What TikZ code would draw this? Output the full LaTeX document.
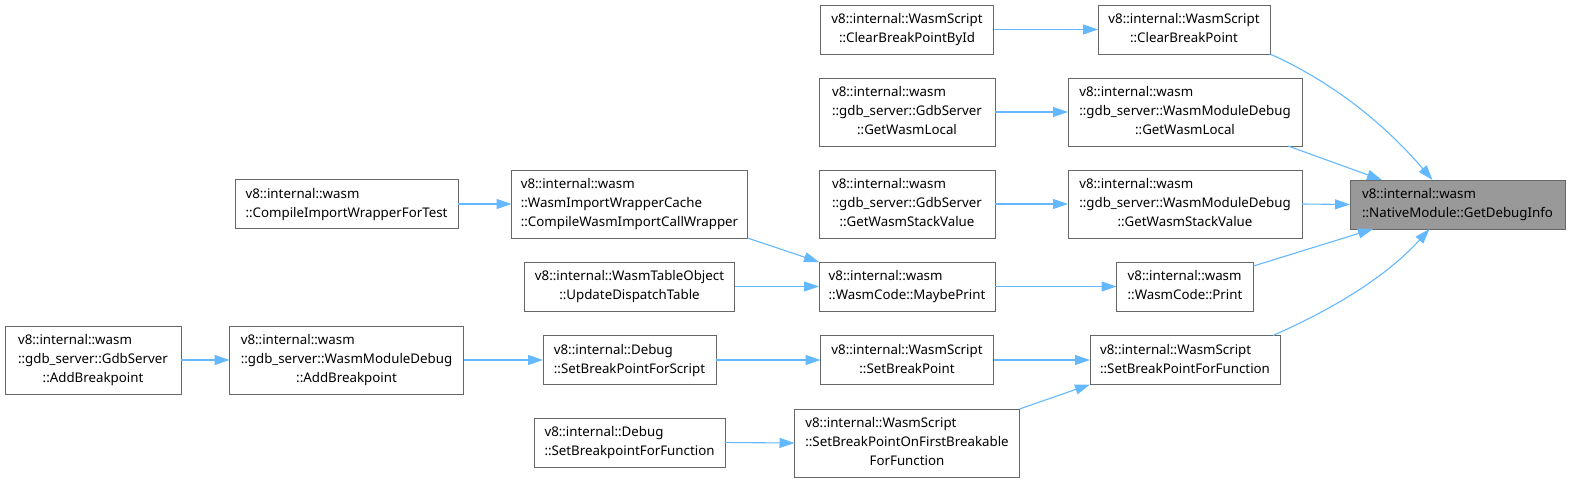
\documentclass[tikz,border=0pt]{standalone}
\usepackage{fontspec}
\setmainfont{Noto Sans}
\usepackage{xcolor}
\usetikzlibrary{arrows.meta}
\definecolor{edgeblue}{HTML}{63B8FF}
\definecolor{boxline}{HTML}{666666}
\definecolor{focusfill}{HTML}{999999}
\newcommand{\fnlines}[1]{\begin{tabular}{@{}l@{}}#1\end{tabular}}
\newcommand{\lastln}[1]{\multicolumn{1}{@{}c@{}}{#1}}
\tikzset{
  fnbox/.style={
    draw=boxline,
    fill=white,
    line width=1pt,
    inner sep=0pt,
    outer sep=0pt,
    minimum height=49pt,
    font=\fontsize{13.3}{19}\selectfont
  },
  tall/.style={minimum height=68pt},
  call/.style={-{Triangle[length=15pt,width=10pt]}, draw=edgeblue, line width=1.1pt}
}

\begin{document}
\begin{tikzpicture}[x=1pt, y=-1pt]
  \useasboundingbox (0,0) rectangle (1571,482);

  % target
  \node[fnbox, fill=focusfill, minimum width=215pt] (gdi) at (1457.5,204.5) {\fnlines{v8::internal::wasm\\::NativeModule::GetDebugInfo}};

  % direct callers
  \node[fnbox, minimum width=172pt] (cbp) at (1184,29.5) {\fnlines{v8::internal::WasmScript\\\lastln{::ClearBreakPoint}}};
  \node[fnbox, tall, minimum width=234pt] (gwl2) at (1185,112) {\fnlines{v8::internal::wasm\\::gdb\_server::WasmModuleDebug\\\lastln{::GetWasmLocal}}};
  \node[fnbox, tall, minimum width=234pt] (gsv2) at (1185,204) {\fnlines{v8::internal::wasm\\::gdb\_server::WasmModuleDebug\\\lastln{::GetWasmStackValue}}};
  \node[fnbox, minimum width=137pt] (pr) at (1185,286.5) {\fnlines{v8::internal::wasm\\\lastln{::WasmCode::Print}}};
  \node[fnbox, minimum width=190pt] (sbf) at (1185,360) {\fnlines{v8::internal::WasmScript\\\lastln{::SetBreakPointForFunction}}};

  % second column
  \node[fnbox, minimum width=173pt] (cbid) at (907,29.5) {\fnlines{v8::internal::WasmScript\\\lastln{::ClearBreakPointById}}};
  \node[fnbox, tall, minimum width=176pt] (gwl1) at (907,112) {\fnlines{v8::internal::wasm\\::gdb\_server::GdbServer\\\lastln{::GetWasmLocal}}};
  \node[fnbox, tall, minimum width=176pt] (gsv1) at (907,204) {\fnlines{v8::internal::wasm\\::gdb\_server::GdbServer\\\lastln{::GetWasmStackValue}}};
  \node[fnbox, minimum width=176pt] (mp) at (907,286.5) {\fnlines{v8::internal::wasm\\\lastln{::WasmCode::MaybePrint}}};
  \node[fnbox, minimum width=173pt] (sbp) at (907,360) {\fnlines{v8::internal::WasmScript\\\lastln{::SetBreakPoint}}};
  \node[fnbox, tall, minimum width=225pt] (sbfb) at (907,443) {\fnlines{v8::internal::WasmScript\\::SetBreakPointOnFirstBreakable\\\lastln{ForFunction}}};

  % third column
  \node[fnbox, tall, minimum width=236pt] (ciw) at (629.5,204) {\fnlines{v8::internal::wasm\\::WasmImportWrapperCache\\\lastln{::CompileWasmImportCallWrapper}}};
  \node[fnbox, minimum width=210pt] (udt) at (629.5,286.5) {\fnlines{v8::internal::WasmTableObject\\\lastln{::UpdateDispatchTable}}};
  \node[fnbox, minimum width=173pt] (sbs) at (629.5,360) {\fnlines{v8::internal::Debug\\\lastln{::SetBreakPointForScript}}};
  \node[fnbox, minimum width=191pt] (sbff) at (629.5,442.5) {\fnlines{v8::internal::Debug\\\lastln{::SetBreakpointForFunction}}};

  % outer columns
  \node[fnbox, minimum width=223pt] (ciwt) at (346.5,204) {\fnlines{v8::internal::wasm\\\lastln{::CompileImportWrapperForTest}}};
  \node[fnbox, tall, minimum width=234pt] (wab) at (346.5,360) {\fnlines{v8::internal::wasm\\::gdb\_server::WasmModuleDebug\\\lastln{::AddBreakpoint}}};
  \node[fnbox, tall, minimum width=176pt] (gab) at (93,360) {\fnlines{v8::internal::wasm\\::gdb\_server::GdbServer\\\lastln{::AddBreakpoint}}};

  % calls into the target
  \draw[call] (cbp.south east) .. controls +(45,20) and +(-60,-70) .. ([xshift=-25pt]gdi.north);
  \draw[call] ([xshift=-14pt]gwl2.south east) -- ([xshift=32pt]gdi.north west);
  \draw[call] (gsv2.east) -- (gdi.west);
  \draw[call] ([yshift=-4pt]pr.north east) -- ([xshift=23pt]gdi.south west);
  \draw[call] ([xshift=-7pt]sbf.north east) .. controls +(45,-20) and +(-50,55) .. ([xshift=-28pt]gdi.south);

  % remaining calls
  \draw[call] (cbid) -- (cbp);
  \draw[call] (gwl1) -- (gwl2);
  \draw[call] (gsv1) -- (gsv2);
  \draw[call] (ciwt) -- (ciw);
  \draw[call] (ciw.south east) -- (mp.north west);
  \draw[call] (udt) -- (mp);
  \draw[call] (mp) -- (pr);
  \draw[call] (gab) -- (wab);
  \draw[call] (wab) -- (sbs);
  \draw[call] (sbs) -- (sbp);
  \draw[call] (sbp) -- (sbf);
  \draw[call] (sbff.east) -- (sbfb.west);
  \draw[call] (sbfb.north east) -- (sbf.south west);
\end{tikzpicture}
\end{document}
